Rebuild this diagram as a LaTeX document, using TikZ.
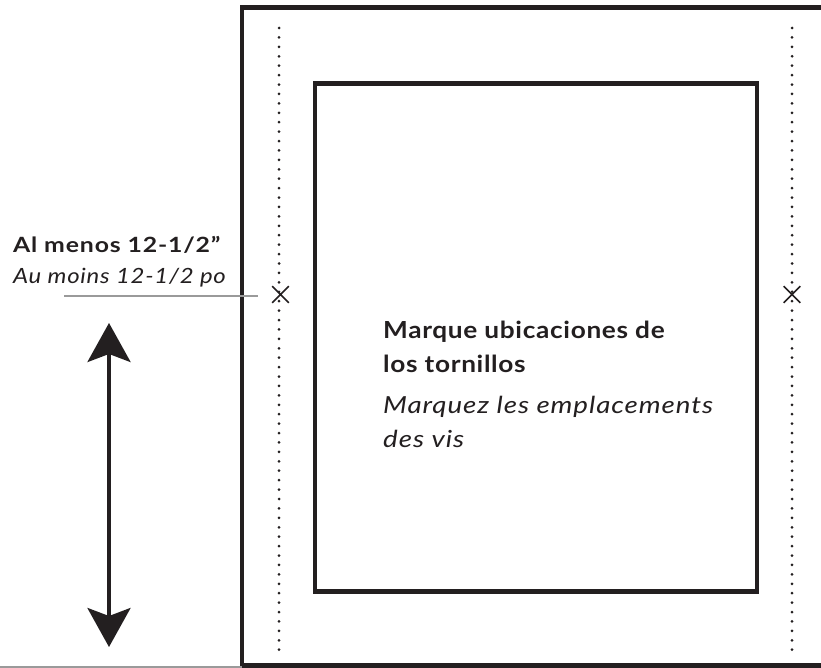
\documentclass[tikz,border=0pt]{standalone}
\usepackage{fontspec}
\setmainfont{Lato}[FakeStretch=1.18, LetterSpace=4]
\newfontfamily\headfont{Lato}[FakeStretch=1.116, LetterSpace=2.85]
\newfontfamily\subfont{Lato}[FakeStretch=1.14, LetterSpace=3.5]
\usetikzlibrary{arrows.meta,shapes.misc}
\definecolor{ink}{HTML}{231F20}
\definecolor{leader}{HTML}{9A9A9A}
\tikzset{
  frame/.style={draw=ink, line width=4.5pt},
  dotline/.style={draw=ink, line width=3pt, line cap=round, dash pattern=on 0pt off 9.42pt},
  screwmark/.style={draw=ink, cross out, line width=1.6pt, minimum size=15pt, inner sep=0pt},
  leaderline/.style={draw=leader, line width=1.6pt},
  dimarrow/.style={draw=ink, fill=ink, line width=3.5pt, {Stealth[length=39pt,width=43pt,inset=8pt]}-{Stealth[length=39pt,width=43pt,inset=8pt]}},
  bigtxt/.style={text=ink, inner sep=0pt, anchor=base west},
  smalltxt/.style={text=ink, inner sep=0pt, anchor=base west}
}
\begin{document}
\begin{tikzpicture}[x=1pt,y=-1pt]
\useasboundingbox (0,0) rectangle (821,668);
\fill[white] (0,0) rectangle (821,668);
\begin{scope}
\clip (0,0) rectangle (821,668);
% outer panel
\draw[frame] (242,7.5) rectangle (840,665.5);
% bottom gray line
\draw[leaderline, line width=1.2pt] (0,667) -- (242,667);
\end{scope}
% inner frame
\draw[frame] (315,83.5) rectangle (757,591.5);
% dotted lines
\draw[dotline] (279,28) -- (279,650);
\draw[dotline] (792,28) -- (792,650);
% screw marks
\node[screwmark] (xl) at (280.5,294.5) {};
\node[screwmark] (xr) at (792,294.5) {};
% leader
\coordinate (lstart) at (64,296);
\draw[leaderline] (lstart) -- ([xshift=-14pt]xl.west |- lstart);
% arrow
\coordinate (atop) at (109,323);
\coordinate (abot) at (109,647);
\draw[dimarrow] (atop) -- (abot);
% labels
\node[smalltxt, font=\fontsize{21}{25}\selectfont\bfseries] (l1) at (13,252) {Al menos 12-1/2”};
\node[smalltxt, font=\subfont\fontsize{21}{25}\selectfont\itshape] (l2) at (13,283) {Au moins 12-1/2 po};
\node[bigtxt, font=\headfont\fontsize{23.5}{28}\selectfont\bfseries] (m1) at (383,338) {Marque ubicaciones de};
\node[bigtxt, font=\headfont\fontsize{23.5}{28}\selectfont\bfseries] (m2) at (383,372) {los tornillos};
\node[bigtxt, font=\fontsize{23.5}{28}\selectfont\itshape] (m3) at (383,413) {Marquez les emplacements};
\node[bigtxt, font=\fontsize{23.5}{28}\selectfont\itshape] (m4) at (383,447) {des vis};
\end{tikzpicture}
\end{document}
